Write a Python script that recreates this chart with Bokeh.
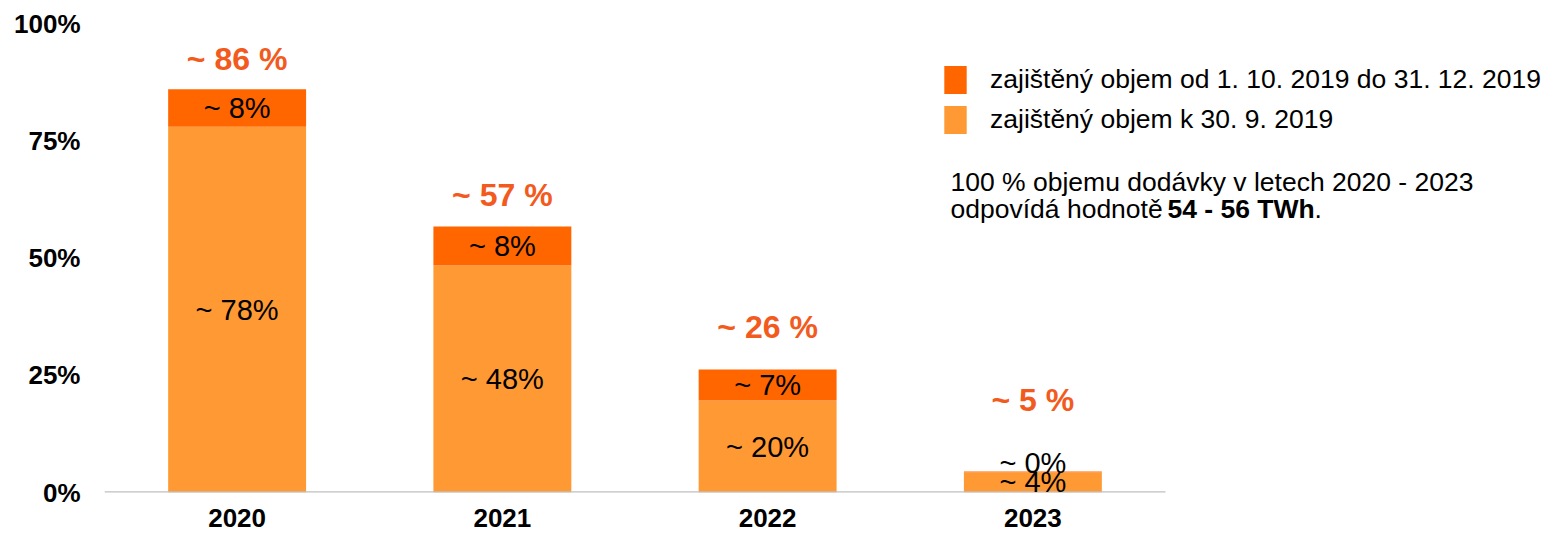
from bokeh.plotting import figure
from bokeh.models import ColumnDataSource, Range1d, FixedTicker, Legend, LegendItem
from bokeh.core.properties import value
from bokeh.embed import file_html
from bokeh.resources import INLINE

# ---------------- data ----------------
years = ["2020", "2021", "2022", "2023"]
secured_by_sep = [78.0, 48.4, 19.6, 4.3]      # zajištěný objem k 30. 9. 2019
secured_oct_dec = [8.0, 8.3, 6.6, 0.2]        # zajištěný objem od 1. 10. do 31. 12. 2019
label_by_sep = ["~ 78%", "~ 48%", "~ 20%", "~ 4%"]
label_oct_dec = ["~ 8%", "~ 8%", "~ 7%", "~ 0%"]
label_total = ["~ 86 %", "~ 57 %", "~ 26 %", "~ 5 %"]
y_ticks = [0, 25, 50, 75, 100]
y_tick_labels = ["0%", "25%", "50%", "75%", "100%"]
legend_labels = ["zajištěný objem od 1. 10. 2019 do 31. 12. 2019",
                 "zajištěný objem k 30. 9. 2019"]
note_line1 = "100 % objemu dodávky v letech 2020 - 2023"
note_line2 = "odpovídá hodnotě "
note_bold = "54 - 56 TWh"
note_end = "."

# ---------------- style / layout ----------------
FONT = "Liberation Sans"
LIGHT = "#FF9933"
DARK = "#FF6600"
TOTAL_COLOR = "#F25A1E"
BASE_GRAY = "#BFBFBF"

W, H = 1551, 535
FRAME_LEFT = 104
FRAME_BOTTOM = 43
FRAME_W = W - FRAME_LEFT
FRAME_H = H - FRAME_BOTTOM
PX_PER_CAT = 265.25
PX_PER_PCT = 4.69
X_START = 0.5
X_END = X_START + FRAME_W / PX_PER_CAT
Y_END = FRAME_H / PX_PER_PCT

def dx(px):
    return X_START + (px - FRAME_LEFT) / PX_PER_CAT

def dy(py):
    return (FRAME_H - py) / PX_PER_PCT

xs = list(range(1, len(years) + 1))
totals = [a + b for a, b in zip(secured_by_sep, secured_oct_dec)]
total_offsets = [-30, -32, -43, -71]
upper_offsets = [0, 0, 0, -9]

src = ColumnDataSource(dict(
    x=xs, by_sep=secured_by_sep, oct_dec=secured_oct_dec,
    y_low=[v / 2 for v in secured_by_sep],
    y_up=[a + b / 2 for a, b in zip(secured_by_sep, secured_oct_dec)],
    y_tot=totals, tot_off=total_offsets, up_off=upper_offsets,
    lab_low=label_by_sep, lab_up=label_oct_dec, lab_tot=label_total,
))

p = figure(width=W, height=H, output_backend="svg", toolbar_location=None,
           x_range=Range1d(X_START, X_END), y_range=Range1d(0, Y_END),
           min_border_left=FRAME_LEFT, min_border_right=0, min_border_top=0,
           min_border_bottom=FRAME_BOTTOM)
p.outline_line_color = None
p.xgrid.visible = False
p.ygrid.visible = False
p.background_fill_color = "white"
p.border_fill_color = "white"

r_light, r_dark = p.vbar_stack(["by_sep", "oct_dec"], x="x", width=0.52, source=src,
                               fill_color=[LIGHT, DARK], line_color=None)

# baseline
p.segment(x0=[X_START], y0=[0], x1=[len(years) + 0.5], y1=[0],
          line_color=BASE_GRAY, line_width=2.5)

# segment labels
p.text(x="x", y="y_low", text="lab_low", source=src, text_align="center",
       text_baseline="middle", text_font=value(FONT), text_font_size="29px",
       text_color="black")
p.text(x="x", y="y_up", text="lab_up", y_offset="up_off", source=src, text_align="center",
       text_baseline="middle", text_font=value(FONT), text_font_size="29px",
       text_color="black")
p.text(x="x", y="y_tot", text="lab_tot", y_offset="tot_off", source=src, text_align="center",
       text_baseline="middle", text_font=value(FONT), text_font_size="32px",
       text_font_style="bold", text_color=TOTAL_COLOR)

# axes
p.yaxis.ticker = FixedTicker(ticks=y_ticks)
p.yaxis.major_label_overrides = dict(zip(y_ticks, y_tick_labels))
p.yaxis.axis_line_color = None
p.yaxis.major_tick_line_color = None
p.yaxis.minor_tick_line_color = None
p.yaxis.major_tick_out = 0
p.yaxis.major_label_standoff = 24
p.yaxis.major_label_text_font = FONT
p.yaxis.major_label_text_font_size = "26px"
p.yaxis.major_label_text_font_style = "bold"
p.yaxis.major_label_text_color = "black"

p.xaxis.ticker = FixedTicker(ticks=xs)
p.xaxis.major_label_overrides = dict(zip(xs, years))
p.xaxis.axis_line_color = None
p.xaxis.major_tick_line_color = None
p.xaxis.minor_tick_line_color = None
p.xaxis.major_tick_out = 0
p.xaxis.major_label_standoff = 16
p.xaxis.major_label_text_font = FONT
p.xaxis.major_label_text_font_size = "26px"
p.xaxis.major_label_text_font_style = "bold"
p.xaxis.major_label_text_color = "black"

# legend (location in frame pixels from bottom-left)
legend = Legend(items=[LegendItem(label=legend_labels[0], renderers=[r_dark]),
                       LegendItem(label=legend_labels[1], renderers=[r_light])],
                location=(837, 355), glyph_width=28, glyph_height=35, label_height=28,
                spacing=5, padding=0, margin=0, label_standoff=21,
                border_line_color=None, background_fill_alpha=0,
                label_text_font=FONT, label_text_font_size="26.5px",
                label_text_color="black")
p.add_layout(legend)

# note
note_x = dx(950)
p.text(x=[note_x], y=[dy(181)], text=[note_line1], text_baseline="middle",
       text_font=value(FONT), text_font_size="26.5px", text_color="black")
p.text(x=[note_x], y=[dy(208)], text=[note_line2], text_baseline="middle",
       text_font=value(FONT), text_font_size="26.5px", text_color="black")
p.text(x=[note_x], y=[dy(208)], text=[note_bold], x_offset=217, text_baseline="middle",
       text_font=value(FONT), text_font_size="26.5px", text_font_style="bold",
       text_color="black")
p.text(x=[note_x], y=[dy(208)], text=[note_end], x_offset=364, text_baseline="middle",
       text_font=value(FONT), text_font_size="26.5px", text_color="black")

open("out.html", "w").write(file_html(p, INLINE))
